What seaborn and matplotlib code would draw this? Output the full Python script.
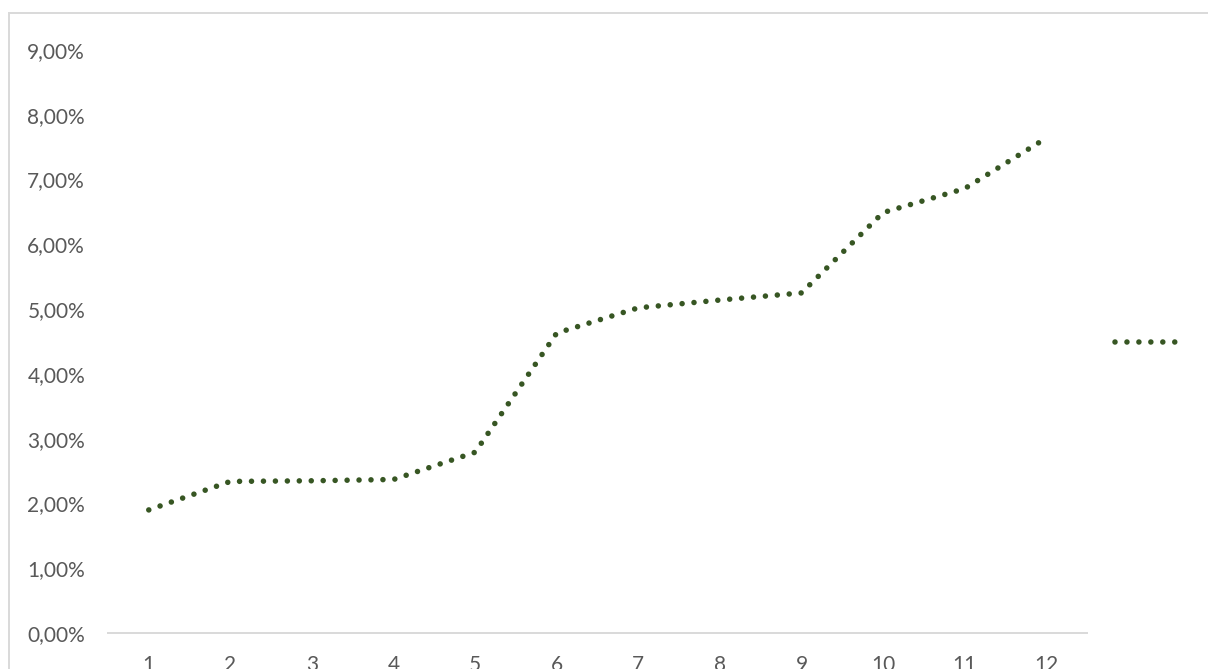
import numpy as np
import pandas as pd
import matplotlib
matplotlib.use("Agg")
import matplotlib.pyplot as plt
import seaborn as sns
from matplotlib.lines import Line2D
from matplotlib.patches import Rectangle

categories = ["1", "2", "3", "4", "5", "6", "7", "8", "9", "10", "11", "12"]
values = [0.0190, 0.0234, 0.0235, 0.0237, 0.0279, 0.0463, 0.0502, 0.0514, 0.0525, 0.0649, 0.0686, 0.0764]
yticks = [0.0, 0.01, 0.02, 0.03, 0.04, 0.05, 0.06, 0.07, 0.08, 0.09]

LINE_COLOR = "#375623"
TEXT_COLOR = "#595959"
GRID_COLOR = "#d9d9d9"

sns.set_theme(style="white")
plt.rcParams["font.family"] = ["Lato", "DejaVu Sans"]

W, H = 1208, 669
fig = plt.figure(figsize=(W / 100, H / 100), dpi=100)
ax = fig.add_axes([108 / W, 1 - 633 / H, (1087 - 108) / W, (633 - 50) / H])

df = pd.DataFrame({"pos": np.arange(len(categories)), "value": values})
dot_style = (0, (0.001, 2.15))
sns.lineplot(data=df, x="pos", y="value", ax=ax, color=LINE_COLOR, linewidth=4.0,
             linestyle=dot_style, sort=False, estimator=None)
for l in ax.lines:
    l.set_dash_capstyle("round")
    l.set_solid_joinstyle("round")

ax.set_xlim(-0.5, len(categories) - 0.5)
ax.set_ylim(0, 0.09)
ax.set_xticks(range(len(categories)))
ax.set_xticklabels(categories)
ax.set_yticks(yticks)
ax.set_yticklabels([f"{v*100:.2f}%".replace(".", ",") for v in yticks])
ax.set_xlabel("")
ax.set_ylabel("")
ax.tick_params(axis="both", length=0, labelsize=15, colors=TEXT_COLOR)
ax.tick_params(axis="y", pad=16.5)
ax.tick_params(axis="x", pad=16)
for s in ["top", "right", "left"]:
    ax.spines[s].set_visible(False)
ax.spines["bottom"].set_color(GRID_COLOR)
ax.spines["bottom"].set_linewidth(1.4)
ax.grid(False)

handle = Line2D([], [], color=LINE_COLOR, linewidth=4.0, linestyle=dot_style,
                dash_capstyle="round")
fig.legend([handle], [""], loc="center left", bbox_to_anchor=(1115 / W, 1 - 343 / H),
           frameon=False, handlelength=3.0, handletextpad=0, borderpad=0,
           borderaxespad=0, fontsize=15)

# chart area border (cropped at right/bottom)
fig.patches.append(Rectangle((8.5 / W, -0.1), 1.2, 1 - 12.5 / H + 0.1, transform=fig.transFigure,
                             fill=False, edgecolor=GRID_COLOR, linewidth=1.4))

fig.savefig("out.png", dpi=100)
